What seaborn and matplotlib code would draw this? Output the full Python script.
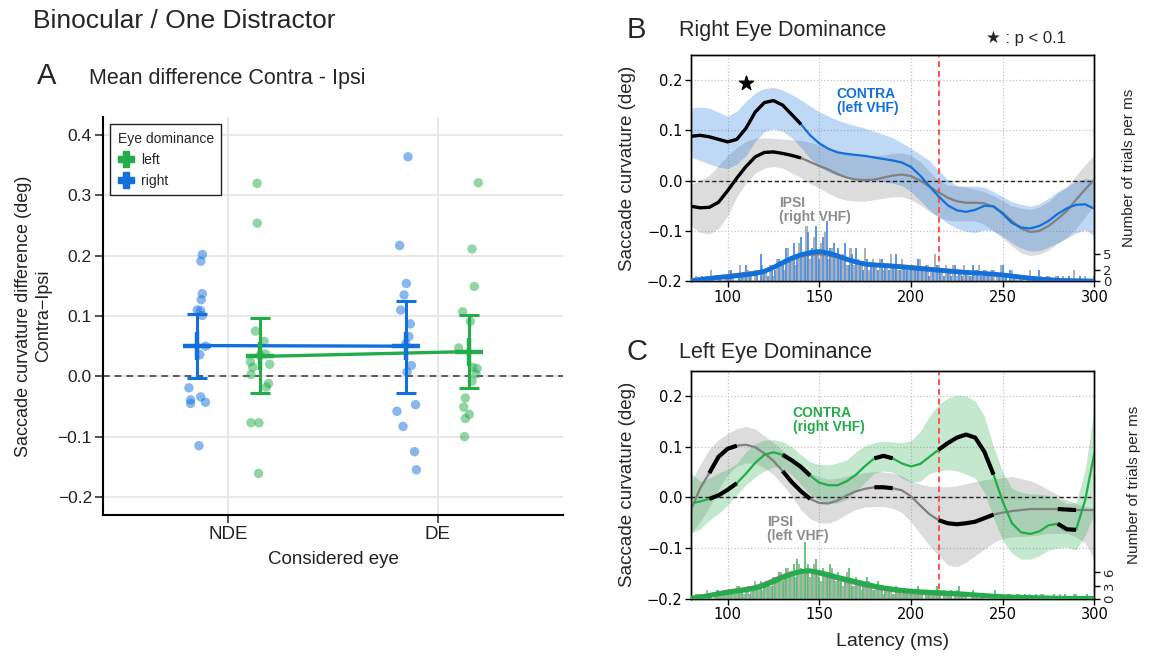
import numpy as np
import pandas as pd
import seaborn as sns
import matplotlib.pyplot as plt
from matplotlib.lines import Line2D

sns.set_theme(style="whitegrid")
plt.rcParams['font.family'] = ['Liberation Sans', 'DejaVu Sans']
plt.rcParams['axes.unicode_minus'] = True

BLUE = "#1170dc"
GREEN = "#22ad4a"
GREY = "#808080"

# ---------------- panel A : mean difference contra - ipsi ----------------
eyes = ["NDE", "DE"]

nde_right = [0.202, 0.191, 0.137, 0.127, 0.110, 0.109, 0.101, 0.050, 0.036,
             -0.019, -0.039, -0.045, -0.034, -0.043, -0.115]
nde_right_jit = [0.025, 0.018, 0.025, 0.020, 0.001, 0.017, 0.025, 0.040, 0.013,
                 -0.039, -0.031, -0.031, 0.017, 0.040, 0.009]
nde_left = [0.320, 0.254, 0.075, 0.058, 0.037, 0.024, 0.015, 0.020, 0.003,
            -0.012, -0.018, -0.077, -0.077, -0.161, 0.035]
nde_left_jit = [-0.013, -0.012, -0.021, 0.021, 0.026, -0.045, -0.034, 0.047, -0.042,
                0.042, 0.031, -0.042, -0.004, -0.006, 0.002]
de_right = [0.364, 0.217, 0.154, 0.135, 0.110, 0.087, 0.066, 0.054, 0.018,
            0.007, -0.047, -0.058, -0.083, -0.125, -0.155]
de_right_jit = [0.009, -0.031, 0.001, -0.010, -0.026, 0.020, 0.013, -0.002, 0.025,
                0.004, 0.045, -0.044, -0.015, 0.040, 0.049]
de_left = [0.321, 0.211, 0.149, 0.107, 0.091, 0.047, 0.015, 0.013, 0.004,
           -0.008, -0.036, -0.051, -0.063, -0.070, -0.100]
de_left_jit = [0.045, 0.015, 0.026, -0.030, 0.007, -0.049, 0.018, 0.039, 0.034,
               0.015, -0.017, -0.025, 0.002, -0.017, -0.021]

mean_right = [0.051, 0.050]
ci_right_low = [-0.002, -0.027]
ci_right_high = [0.104, 0.125]
mean_left = [0.033, 0.041]
ci_left_low = [-0.028, -0.020]
ci_left_high = [0.096, 0.101]

# ---------------- panels B / C : curvature time course ----------------
latency = np.arange(80, 301, 5)

b_contra_mean = [0.088, 0.090, 0.087, 0.082, 0.077, 0.082, 0.104, 0.136, 0.155, 0.159,
                 0.150, 0.131, 0.112, 0.090, 0.074, 0.063, 0.056, 0.053, 0.051, 0.049,
                 0.046, 0.043, 0.040, 0.036, 0.027, 0.010, -0.011, -0.031, -0.049, -0.059,
                 -0.062, -0.058, -0.050, -0.051, -0.066, -0.084, -0.093, -0.095, -0.090, -0.080,
                 -0.066, -0.055, -0.048, -0.047, -0.056]
b_contra_hi = [0.144, 0.146, 0.144, 0.136, 0.128, 0.138, 0.158, 0.174, 0.183, 0.185,
               0.180, 0.171, 0.160, 0.148, 0.137, 0.128, 0.120, 0.114, 0.109, 0.104,
               0.098, 0.092, 0.085, 0.075, 0.064, 0.052, 0.040, 0.020, 0.002, -0.010,
               -0.011, -0.011, -0.013, -0.022, -0.032, -0.042, -0.047, -0.051, -0.046, -0.035,
               -0.022, -0.012, -0.002, 0.004, 0.002]
b_contra_lo = [0.047, 0.040, 0.033, 0.027, 0.024, 0.033, 0.050, 0.078, 0.097, 0.103,
               0.098, 0.085, 0.066, 0.044, 0.028, 0.017, 0.010, 0.007, 0.004, 0.002,
               0.001, -0.002, -0.005, -0.010, -0.022, -0.040, -0.058, -0.072, -0.085, -0.095,
               -0.101, -0.103, -0.098, -0.100, -0.110, -0.124, -0.134, -0.140, -0.139, -0.132,
               -0.124, -0.114, -0.104, -0.098, -0.110]
b_ipsi_mean = [-0.051, -0.054, -0.053, -0.043, -0.020, 0.005, 0.028, 0.047, 0.056, 0.057,
               0.054, 0.050, 0.045, 0.037, 0.029, 0.022, 0.013, 0.006, 0.002, 0.001,
               0.002, 0.006, 0.010, 0.012, 0.009, 0.000, -0.012, -0.023, -0.034, -0.041,
               -0.044, -0.044, -0.045, -0.052, -0.064, -0.080, -0.095, -0.102, -0.100, -0.090,
               -0.076, -0.060, -0.038, -0.017, 0.002]
b_ipsi_hi = [-0.008, 0.001, 0.010, 0.030, 0.050, 0.066, 0.078, 0.084, 0.085, 0.084,
             0.083, 0.081, 0.080, 0.076, 0.071, 0.066, 0.060, 0.055, 0.050, 0.047,
             0.049, 0.051, 0.054, 0.055, 0.050, 0.038, 0.018, 0.000, -0.009, -0.011,
             -0.013, -0.017, -0.022, -0.030, -0.040, -0.050, -0.055, -0.057, -0.052, -0.042,
             -0.025, -0.012, 0.010, 0.032, 0.051]
b_ipsi_lo = [-0.090, -0.103, -0.106, -0.095, -0.070, -0.032, -0.005, 0.015, 0.025, 0.028,
             0.025, 0.015, 0.006, -0.006, -0.015, -0.025, -0.034, -0.039, -0.041, -0.041,
             -0.038, -0.035, -0.032, -0.032, -0.038, -0.048, -0.062, -0.072, -0.079, -0.080,
             -0.080, -0.080, -0.087, -0.100, -0.115, -0.130, -0.144, -0.149, -0.146, -0.138,
             -0.124, -0.113, -0.095, -0.072, -0.048]

c_contra_mean = [-0.012, -0.008, -0.003, 0.004, 0.015, 0.028, 0.047, 0.068, 0.084, 0.089,
                 0.084, 0.073, 0.060, 0.043, 0.029, 0.024, 0.024, 0.032, 0.045, 0.062,
                 0.077, 0.082, 0.077, 0.067, 0.061, 0.066, 0.080, 0.094, 0.107, 0.118,
                 0.124, 0.118, 0.090, 0.045, -0.008, -0.051, -0.069, -0.072, -0.067, -0.055,
                 -0.052, -0.063, -0.064, -0.005, 0.088]
c_contra_hi = [0.048, 0.032, 0.038, 0.048, 0.056, 0.067, 0.090, 0.106, 0.113, 0.114,
               0.110, 0.100, 0.084, 0.070, 0.065, 0.064, 0.068, 0.074, 0.090, 0.102,
               0.108, 0.111, 0.109, 0.108, 0.112, 0.130, 0.160, 0.183, 0.196, 0.202,
               0.200, 0.190, 0.160, 0.100, 0.050, 0.018, 0.010, 0.007, 0.006, 0.004,
               -0.002, -0.012, -0.010, 0.055, 0.180]
c_contra_lo = [-0.071, -0.062, -0.045, -0.032, -0.015, 0.005, 0.025, 0.040, 0.052, 0.060,
               0.058, 0.045, 0.025, 0.005, -0.006, -0.012, -0.011, -0.004, 0.012, 0.030,
               0.048, 0.052, 0.050, 0.038, 0.030, 0.032, 0.047, 0.052, 0.055, 0.052,
               0.046, 0.038, 0.010, -0.040, -0.085, -0.110, -0.122, -0.122, -0.115, -0.104,
               -0.100, -0.098, -0.104, -0.075, -0.031]
c_ipsi_mean = [-0.025, 0.018, 0.048, 0.080, 0.096, 0.102, 0.104, 0.099, 0.087, 0.072,
               0.052, 0.030, 0.012, -0.003, -0.011, -0.012, -0.006, 0.004, 0.012, 0.017,
               0.020, 0.020, 0.018, 0.014, 0.002, -0.016, -0.033, -0.045, -0.051, -0.053,
               -0.051, -0.048, -0.041, -0.034, -0.030, -0.027, -0.025, -0.023, -0.023, -0.023,
               -0.023, -0.024, -0.025, -0.025, -0.025]
c_ipsi_hi = [0.030, 0.065, 0.095, 0.114, 0.126, 0.136, 0.140, 0.135, 0.122, 0.108,
             0.093, 0.078, 0.062, 0.048, 0.040, 0.036, 0.038, 0.042, 0.046, 0.049,
             0.051, 0.050, 0.048, 0.042, 0.033, 0.026, 0.022, 0.021, 0.021, 0.023,
             0.027, 0.031, 0.035, 0.037, 0.039, 0.041, 0.037, 0.033, 0.025, 0.015,
             0.005, -0.005, -0.012, -0.018, -0.020]
c_ipsi_lo = [-0.071, -0.048, -0.020, 0.015, 0.045, 0.062, 0.068, 0.067, 0.058, 0.045,
             0.025, 0.002, -0.025, -0.042, -0.050, -0.051, -0.044, -0.033, -0.024, -0.019,
             -0.018, -0.018, -0.022, -0.030, -0.048, -0.072, -0.095, -0.115, -0.133, -0.137,
             -0.128, -0.115, -0.102, -0.089, -0.081, -0.078, -0.077, -0.076, -0.074, -0.071,
             -0.071, -0.071, -0.078, -0.090, -0.124]

# significant windows (ms) drawn in black
sig_b = [(80, 140)]
sig_c = [(90, 105), (130, 145), (180, 190), (215, 245), (280, 290)]

# smoothed trial densities (trials per ms)
b_contra_dens = [0.1, 0.3, 0.5, 0.7, 0.8, 1.0, 1.2, 1.4, 1.8, 2.5, 3.4, 4.2, 4.8, 5.2, 5.4,
                 5.1, 4.6, 4.0, 3.5, 3.1, 2.95, 2.85, 2.75, 2.6, 2.45, 2.3, 2.15, 2.0, 1.85,
                 1.7, 1.6, 1.5, 1.4, 1.3, 1.15, 0.95, 0.75, 0.55, 0.35, 0.25, 0.15, 0.1, 0.08,
                 0.06, 0.05]
b_ipsi_dens = [0.2, 0.4, 0.6, 0.8, 1.0, 1.2, 1.4, 1.6, 1.9, 2.5, 3.2, 4.0, 4.6, 4.9, 5.0,
               4.8, 4.4, 3.9, 3.5, 3.2, 3.05, 2.95, 2.85, 2.75, 2.6, 2.45, 2.3, 2.15, 2.0,
               1.85, 1.7, 1.55, 1.4, 1.25, 1.1, 0.95, 0.8, 0.65, 0.5, 0.4, 0.3, 0.2, 0.15,
               0.1, 0.08]
c_contra_dens = [0.15, 0.4, 0.7, 1.1, 1.4, 1.7, 2.0, 2.4, 3.0, 3.9, 4.8, 5.6, 6.2, 6.4, 6.0,
                 5.5, 4.9, 4.4, 3.9, 3.4, 2.9, 2.5, 2.2, 1.95, 1.75, 1.6, 1.5, 1.4, 1.3,
                 1.2, 1.05, 0.9, 0.75, 0.6, 0.5, 0.4, 0.35, 0.3, 0.25, 0.2, 0.15, 0.12, 0.1,
                 0.1, 0.1]
c_ipsi_dens = [0.2, 0.5, 0.9, 1.3, 1.7, 2.0, 2.3, 2.7, 3.4, 4.3, 5.2, 5.9, 6.3, 6.2, 5.7,
               5.1, 4.6, 4.0, 3.5, 3.0, 2.6, 2.2, 1.9, 1.6, 1.45, 1.3, 1.2, 1.1, 1.0,
               0.9, 0.8, 0.7, 0.6, 0.5, 0.4, 0.35, 0.3, 0.25, 0.2, 0.15, 0.12, 0.1, 0.08,
               0.06, 0.05]

# trial counts per ms (contra on even ms, ipsi on odd ms)
hist_even = np.arange(80, 301, 2)
hist_odd = np.arange(81, 300, 2)
b_contra_counts = [1, 0, 0, 1, 0, 0, 1, 0, 1, 0,
                   1, 2, 0, 1, 1, 3, 1, 0, 2, 5,
                   2, 1, 3, 2, 4, 3, 6, 4, 7, 5,
                   8, 5, 9, 6, 10, 4, 8, 11, 6, 7,
                   6, 4, 7, 3, 5, 6, 3, 2, 4, 3,
                   3, 2, 4, 3, 2, 3, 5, 2, 3, 2,
                   3, 2, 4, 2, 3, 1, 2, 3, 2, 1,
                   2, 1, 3, 2, 1, 2, 1, 3, 2, 1,
                   2, 1, 2, 0, 1, 3, 1, 2, 1, 0,
                   1, 0, 1, 0, 1, 2, 0, 1, 0, 0,
                   1, 0, 0, 1, 0, 0, 1, 0, 0, 0, 1]
b_ipsi_counts = [0, 1, 0, 0, 1, 2, 0, 1, 0, 1,
                 2, 1, 0, 3, 1, 2, 1, 2, 0, 3,
                 2, 3, 1, 4, 3, 2, 6, 4, 3, 7,
                 5, 10, 4, 8, 5, 7, 9, 4, 6, 5,
                 4, 5, 3, 6, 3, 4, 3, 6, 2, 4,
                 3, 4, 2, 3, 5, 3, 2, 4, 3, 2,
                 3, 2, 4, 2, 3, 2, 5, 3, 2, 3,
                 2, 3, 1, 2, 3, 2, 1, 2, 3, 1,
                 2, 1, 2, 1, 3, 1, 0, 2, 1, 1,
                 1, 0, 2, 1, 0, 1, 0, 1, 0, 1,
                 0, 1, 0, 0, 2, 0, 0, 1, 0, 0]
c_contra_counts = [1, 0, 1, 0, 1, 1, 0, 2, 1, 1,
                   2, 1, 1, 3, 2, 2, 1, 3, 2, 4,
                   3, 4, 3, 5, 6, 4, 7, 6, 8, 9,
                   7, 13, 8, 6, 9, 5, 7, 6, 8, 5,
                   6, 4, 5, 7, 3, 5, 4, 3, 5, 3,
                   2, 4, 3, 2, 3, 1, 3, 2, 2, 1,
                   2, 1, 3, 1, 2, 1, 2, 3, 1, 2,
                   1, 2, 1, 3, 1, 1, 0, 2, 1, 1,
                   1, 0, 1, 2, 0, 1, 0, 1, 0, 1,
                   0, 1, 0, 0, 1, 0, 1, 0, 0, 1,
                   0, 0, 1, 0, 0, 1, 0, 0, 1, 0, 0]
c_ipsi_counts = [0, 1, 1, 0, 2, 1, 1, 2, 1, 2,
                 1, 2, 3, 2, 1, 3, 2, 4, 3, 2,
                 4, 3, 5, 4, 6, 5, 7, 6, 5, 8,
                 6, 7, 5, 8, 6, 4, 6, 5, 7, 4,
                 5, 3, 6, 4, 3, 4, 2, 3, 4, 2,
                 3, 2, 1, 3, 2, 1, 2, 1, 2, 1,
                 1, 2, 1, 0, 2, 1, 1, 2, 0, 1,
                 1, 0, 2, 1, 1, 0, 1, 1, 0, 1,
                 0, 1, 0, 1, 0, 0, 1, 0, 0, 1,
                 0, 0, 1, 0, 0, 1, 0, 0, 0, 0,
                 1, 0, 0, 0, 1, 0, 0, 0, 0, 0]

# ---------------------------------------------------------------------------
fig = plt.figure(figsize=(11.52, 6.56), dpi=100)
axA = fig.add_axes([0.0894, 0.2149, 0.3993, 0.6067])
axB = fig.add_axes([0.5998, 0.5712, 0.3502, 0.3453])
axC = fig.add_axes([0.5998, 0.0873, 0.3502, 0.3476])

# ---- panel A
dodge = {"right": -0.15, "left": 0.15}
pal = {"left": GREEN, "right": BLUE}
rows = []
for i, (vals, jit, dom) in enumerate([(nde_right, nde_right_jit, "right"),
                                      (nde_left, nde_left_jit, "left"),
                                      (de_right, de_right_jit, "right"),
                                      (de_left, de_left_jit, "left")]):
    eye_idx = i // 2
    for v, j in zip(vals, jit):
        rows.append({"x": eye_idx + dodge[dom] + j, "diff": v, "dominance": dom})
dfA = pd.DataFrame(rows)

axA.axhline(0, color="#444444", ls="--", lw=1.2, dashes=(4, 3), zorder=2)
sns.scatterplot(data=dfA, x="x", y="diff", hue="dominance", palette=pal, s=46,
                alpha=0.5, linewidth=0, legend=False, ax=axA, zorder=3)

for dom, means, lo, hi in [("right", mean_right, ci_right_low, ci_right_high),
                           ("left", mean_left, ci_left_low, ci_left_high)]:
    xs = np.arange(len(eyes)) + dodge[dom]
    means = np.array(means)
    dfm = pd.DataFrame({"x": xs, "mean": means})
    sns.lineplot(data=dfm, x="x", y="mean", color=pal[dom], lw=2.4, ax=axA, zorder=4)
    axA.errorbar(xs, means, yerr=[means - np.array(lo), np.array(hi) - means],
                 fmt="none", ecolor=pal[dom], elinewidth=2.2, capsize=7.5,
                 capthick=2.2, zorder=5)
    axA.plot(xs, means, ls="none", marker="+", ms=20, mew=3.2, color=pal[dom], zorder=6)

axA.set_xlim(-0.6, 1.6)
axA.set_ylim(-0.23, 0.43)
axA.set_xticks(range(len(eyes)))
axA.set_xticklabels(eyes)
axA.set_yticks([-0.2, -0.1, 0.0, 0.1, 0.2, 0.3, 0.4])
axA.grid(True, color="#e8e8e8", lw=1.5)
axA.set_axisbelow(True)
for s in ["top", "right"]:
    axA.spines[s].set_visible(False)
for s in ["left", "bottom"]:
    axA.spines[s].set_color("black")
    axA.spines[s].set_linewidth(1.5)
axA.tick_params(axis="both", which="major", direction="out", length=6, width=1.2,
                color="#333333", labelsize=12.5, labelcolor="#222222",
                left=True, bottom=True, pad=2)
axA.tick_params(axis="x", labelsize=13.5)
axA.set_xlabel("Considered eye", fontsize=13.5, color="#222222", labelpad=6)
axA.set_ylabel("Saccade curvature difference (deg)\nContra\u2212Ipsi", fontsize=13,
               color="#222222", labelpad=4)

handles = [Line2D([], [], ls="none", marker="P", ms=11, color=GREEN),
           Line2D([], [], ls="none", marker="P", ms=11, color=BLUE)]
leg = axA.legend(handles, ["left", "right"], title="Eye dominance", loc="upper left",
                 bbox_to_anchor=(0.0, 1.0), frameon=True, fancybox=False,
                 edgecolor="#222222", framealpha=1, fontsize=10, title_fontsize=10,
                 handletextpad=0.5, borderpad=0.55, labelspacing=0.5, handlelength=1.2)
leg.get_frame().set_linewidth(1.0)
leg._legend_box.align = "left"


# ---- panels B / C
def time_panel(ax, col, contra, c_hi, c_lo, ipsi, i_hi, i_lo, sig, dens_c, dens_i,
               cnt_c, cnt_i, ymax2, rticks, bar_col, sig_lw):
    ax.fill_between(latency, i_lo, i_hi, color=GREY, alpha=0.27, lw=0, zorder=2)
    ax.fill_between(latency, c_lo, c_hi, color=col, alpha=0.27, lw=0, zorder=2)
    ax.axhline(0, color="#222222", ls="--", lw=1.0, dashes=(3, 2), zorder=3)
    ax.axvline(215, color="#ff5050", ls="--", lw=1.4, dashes=(3, 2), zorder=3)
    df = pd.DataFrame({"latency": np.concatenate([latency, latency]),
                       "curv": np.concatenate([ipsi, contra]),
                       "side": ["ipsi"] * len(latency) + ["contra"] * len(latency)})
    sns.lineplot(data=df, x="latency", y="curv", hue="side",
                 palette={"ipsi": GREY, "contra": col}, lw=1.6, legend=False,
                 ax=ax, zorder=4)
    lat = np.asarray(latency)
    for lo, hi in sig:
        m = (lat >= lo) & (lat <= hi)
        for yy in (ipsi, contra):
            ax.plot(lat[m], np.asarray(yy)[m], color="black", lw=sig_lw,
                    solid_capstyle="butt", zorder=5)
    ax.set_xlim(80, 300)
    ax.set_ylim(-0.2, 0.25)
    ax.set_xticks([100, 150, 200, 250, 300])
    ax.set_yticks([-0.2, -0.1, 0.0, 0.1, 0.2])
    ax.grid(True, ls=":", color="#c4c4c4", lw=0.9)
    for s in ax.spines.values():
        s.set_color("black")
        s.set_linewidth(1.0)
    ax.tick_params(axis="both", direction="out", length=4, width=1, color="black",
                   labelsize=10.5, labelcolor="black", left=True, bottom=True, pad=2)
    for lab in ax.get_xticklabels() + ax.get_yticklabels():
        lab.set_fontfamily("DejaVu Sans")
    ax.set_ylabel("Saccade curvature (deg)", fontsize=13.5, labelpad=8)
    ax.set_xlabel("")

    ax2 = ax.twinx()
    ax2.grid(False)
    ax2.bar(hist_odd, cnt_i, width=1.1, color="#b0b0b0", lw=0, zorder=1)
    ax2.bar(hist_even, cnt_c, width=1.1, color=bar_col, alpha=0.85, lw=0, zorder=2)
    sns.lineplot(x=latency, y=dens_i, color=GREY, lw=2.6, ax=ax2, zorder=3)
    sns.lineplot(x=latency, y=dens_c, color=col, lw=3.4, ax=ax2, zorder=4)
    ax2.set_ylim(0, ymax2)
    ax2.set_xlim(80, 300)
    ax2.set_yticks(rticks)
    ax2.tick_params(axis="y", direction="out", length=4, width=1, color="black",
                    labelsize=9.5, right=True, pad=2)
    for lab in ax2.get_yticklabels():
        lab.set_fontfamily("DejaVu Sans")
    ax2.set_ylabel("Number of trials per ms", fontsize=11, labelpad=8)
    for s in ax2.spines.values():
        s.set_color("black")
        s.set_linewidth(1.0)
    return ax2


time_panel(axB, BLUE, b_contra_mean, b_contra_hi, b_contra_lo,
           b_ipsi_mean, b_ipsi_hi, b_ipsi_lo, sig_b, b_contra_dens, b_ipsi_dens,
           b_contra_counts, b_ipsi_counts, 41, [0, 2, 5], "#3d88e6", 2.4)
axC2 = time_panel(axC, GREEN, c_contra_mean, c_contra_hi, c_contra_lo,
                  c_ipsi_mean, c_ipsi_hi, c_ipsi_lo, sig_c, c_contra_dens, c_ipsi_dens,
                  c_contra_counts, c_ipsi_counts, 52, [0, 3, 6], "#4cbf68", 3.0)
for lab in axC2.get_yticklabels():
    lab.set_rotation(90)
    lab.set_va("center")
axC.set_xlabel("Latency (ms)", fontsize=14, labelpad=8)

axB.scatter([110], [0.193], marker="*", s=110, color="black", zorder=6)
axB.text(159.5, 0.185, "CONTRA\n(left VHF)", color=BLUE, fontsize=10, fontweight="bold",
         ha="left", va="top", linespacing=1.0, zorder=7)
axB.text(128.2, -0.031, "IPSI\n(right VHF)", color="#8c8c8c", fontsize=10,
         fontweight="bold", ha="left", va="top", linespacing=1.0, zorder=7)
axC.text(135.5, 0.180, "CONTRA\n(right VHF)", color=GREEN, fontsize=10,
         fontweight="bold", ha="left", va="top", linespacing=1.0, zorder=7)
axC.text(121.6, -0.034, "IPSI\n(left VHF)", color="#8c8c8c", fontsize=10,
         fontweight="bold", ha="left", va="top", linespacing=1.0, zorder=7)

# ---- figure texts
fig.text(0.0286, 0.968, "Binocular / One Distractor", fontsize=19, va="center", ha="left")
fig.text(0.032, 0.884, "A", fontsize=21, va="center", ha="left")
fig.text(0.0773, 0.881, "Mean difference Contra - Ipsi", fontsize=15.5, va="center", ha="left")
fig.text(0.544, 0.954, "B", fontsize=21, va="center", ha="left")
fig.text(0.589, 0.953, "Right Eye Dominance", fontsize=15.5, va="center", ha="left")
fig.text(0.856, 0.942, "\u2605 : p < 0.1", fontsize=12, va="center", ha="left")
fig.text(0.544, 0.463, "C", fontsize=21, va="center", ha="left")
fig.text(0.589, 0.462, "Left Eye Dominance", fontsize=15.5, va="center", ha="left")

fig.savefig("out.png", dpi=100)
